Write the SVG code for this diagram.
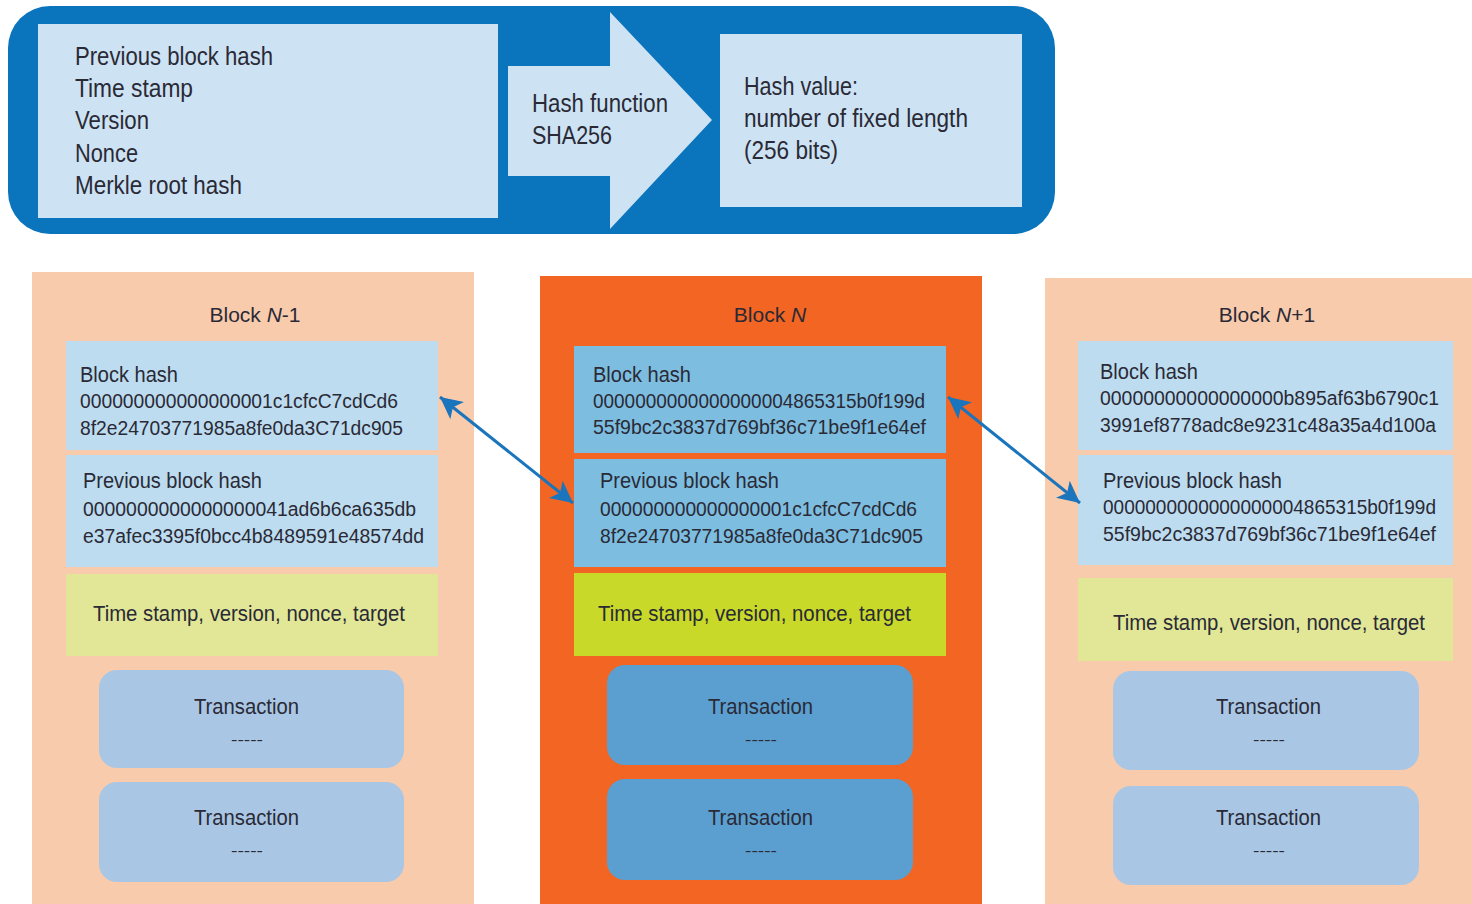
<svg xmlns="http://www.w3.org/2000/svg" width="1472" height="904" viewBox="0 0 1472 904">
  <defs>
    <style>
      .t { font-family: "Liberation Sans", Arial, sans-serif; fill: #2a2a36; }
      .big { font-size: 25px; }
      .mid { font-size: 22px; }
      .hx { font-size: 20px; }
      .ttl { font-size: 21px; text-anchor: middle; }
      .sm { font-size: 14px; }
      .pale { fill: #f9cbad; }
      .hot { fill: #f26522; }
      .hashL { fill: #bddcf0; }
      .hashM { fill: #7dbde0; }
      .metaL { fill: #e1e796; }
      .metaM { fill: #c8d92a; }
      .txL { fill: #a9c7e4; }
      .txM { fill: #5a9fd0; }
      .link { stroke: #1b75bc; stroke-width: 3; fill: none; }
    </style>
    <marker id="head" viewBox="0 0 10 10" refX="10" refY="5" markerWidth="26" markerHeight="22" markerUnits="userSpaceOnUse" orient="auto-start-reverse">
      <path d="M0,0 L10,5 L0,10 L2.5,5 Z" fill="#1b75bc"/>
    </marker>
  </defs>

  <rect width="1472" height="904" fill="#ffffff"/>

  <!-- hashing overview banner -->
  <g id="hash-banner">
    <rect x="8" y="6" width="1047" height="228" rx="42" fill="#0a74bd"/>
    <rect x="38" y="24" width="460" height="194" fill="#cde3f3"/>
    <text class="t big" x="75" y="65" textLength="198" lengthAdjust="spacingAndGlyphs">Previous block hash</text>
    <text class="t big" x="75" y="97" textLength="118" lengthAdjust="spacingAndGlyphs">Time stamp</text>
    <text class="t big" x="75" y="129" textLength="74" lengthAdjust="spacingAndGlyphs">Version</text>
    <text class="t big" x="75" y="162" textLength="63" lengthAdjust="spacingAndGlyphs">Nonce</text>
    <text class="t big" x="75" y="194" textLength="167" lengthAdjust="spacingAndGlyphs">Merkle root hash</text>
  </g>

  <g id="hash-function">
    <polygon points="508,66 610,66 610,12 712,120 610,229 610,176 508,176" fill="#cde3f3"/>
    <text class="t big" x="532" y="112" textLength="136" lengthAdjust="spacingAndGlyphs">Hash function</text>
    <text class="t big" x="532" y="144" textLength="80" lengthAdjust="spacingAndGlyphs">SHA256</text>
  </g>

  <g id="hash-value">
    <rect x="720" y="34" width="302" height="173" fill="#cde3f3"/>
    <text class="t big" x="744" y="95" textLength="114" lengthAdjust="spacingAndGlyphs">Hash value:</text>
    <text class="t big" x="744" y="127" textLength="224" lengthAdjust="spacingAndGlyphs">number of fixed length</text>
    <text class="t big" x="744" y="159" textLength="94" lengthAdjust="spacingAndGlyphs">(256 bits)</text>
  </g>

  <!-- Block N-1 -->
  <g id="block-n-minus-1">
    <rect class="pale" x="32" y="272" width="442" height="632"/>
    <text class="t ttl" x="255" y="322">Block <tspan font-style="italic">N</tspan>-1</text>
    <rect class="hashL" x="66" y="341" width="372" height="109"/>
    <text class="t mid" x="80" y="382" textLength="98" lengthAdjust="spacingAndGlyphs">Block hash</text>
    <text class="t hx" x="80" y="408" textLength="318" lengthAdjust="spacingAndGlyphs">000000000000000001c1cfcC7cdCd6</text>
    <text class="t hx" x="80" y="435" textLength="323" lengthAdjust="spacingAndGlyphs">8f2e24703771985a8fe0da3C71dc905</text>
    <rect class="hashL" x="66" y="455" width="372" height="112"/>
    <text class="t mid" x="83" y="488" textLength="179" lengthAdjust="spacingAndGlyphs">Previous block hash</text>
    <text class="t hx" x="83" y="516" textLength="333" lengthAdjust="spacingAndGlyphs">0000000000000000041ad6b6ca635db</text>
    <text class="t hx" x="83" y="543" textLength="341" lengthAdjust="spacingAndGlyphs">e37afec3395f0bcc4b8489591e48574dd</text>
    <rect class="metaL" x="66" y="574" width="372" height="82"/>
    <text class="t mid" x="93" y="621" textLength="312" lengthAdjust="spacingAndGlyphs">Time stamp, version, nonce, target</text>
    <rect class="txL" x="99" y="670" width="305" height="98" rx="18"/>
    <text class="t mid" x="194" y="714" textLength="105" lengthAdjust="spacingAndGlyphs">Transaction</text>
    <text class="t sm" x="231" y="745" textLength="32" lengthAdjust="spacingAndGlyphs">-----</text>
    <rect class="txL" x="99" y="782" width="305" height="100" rx="18"/>
    <text class="t mid" x="194" y="825" textLength="105" lengthAdjust="spacingAndGlyphs">Transaction</text>
    <text class="t sm" x="231" y="856" textLength="32" lengthAdjust="spacingAndGlyphs">-----</text>
  </g>

  <!-- Block N -->
  <g id="block-n">
    <rect class="hot" x="540" y="276" width="442" height="628"/>
    <text class="t ttl" x="770" y="322">Block <tspan font-style="italic">N</tspan></text>
    <rect class="hashM" x="574" y="346" width="372" height="107"/>
    <text class="t mid" x="593" y="382" textLength="98" lengthAdjust="spacingAndGlyphs">Block hash</text>
    <text class="t hx" x="593" y="408" textLength="332" lengthAdjust="spacingAndGlyphs">0000000000000000004865315b0f199d</text>
    <text class="t hx" x="593" y="434" textLength="333" lengthAdjust="spacingAndGlyphs">55f9bc2c3837d769bf36c71be9f1e64ef</text>
    <rect class="hashM" x="574" y="459" width="372" height="108"/>
    <text class="t mid" x="600" y="488" textLength="179" lengthAdjust="spacingAndGlyphs">Previous block hash</text>
    <text class="t hx" x="600" y="516" textLength="317" lengthAdjust="spacingAndGlyphs">000000000000000001c1cfcC7cdCd6</text>
    <text class="t hx" x="600" y="543" textLength="323" lengthAdjust="spacingAndGlyphs">8f2e24703771985a8fe0da3C71dc905</text>
    <rect class="metaM" x="574" y="573" width="372" height="83"/>
    <text class="t mid" x="598" y="621" textLength="313" lengthAdjust="spacingAndGlyphs">Time stamp, version, nonce, target</text>
    <rect class="txM" x="607" y="665" width="306" height="100" rx="18"/>
    <text class="t mid" x="708" y="714" textLength="105" lengthAdjust="spacingAndGlyphs">Transaction</text>
    <text class="t sm" x="745" y="745" textLength="32" lengthAdjust="spacingAndGlyphs">-----</text>
    <rect class="txM" x="607" y="779" width="306" height="101" rx="18"/>
    <text class="t mid" x="708" y="825" textLength="105" lengthAdjust="spacingAndGlyphs">Transaction</text>
    <text class="t sm" x="745" y="856" textLength="32" lengthAdjust="spacingAndGlyphs">-----</text>
  </g>

  <!-- Block N+1 -->
  <g id="block-n-plus-1">
    <rect class="pale" x="1045" y="278" width="427" height="626"/>
    <text class="t ttl" x="1267" y="322">Block <tspan font-style="italic">N</tspan>+1</text>
    <rect class="hashL" x="1078" y="341" width="375" height="109"/>
    <text class="t mid" x="1100" y="379" textLength="98" lengthAdjust="spacingAndGlyphs">Block hash</text>
    <text class="t hx" x="1100" y="405" textLength="339" lengthAdjust="spacingAndGlyphs">00000000000000000b895af63b6790c1</text>
    <text class="t hx" x="1100" y="432" textLength="336" lengthAdjust="spacingAndGlyphs">3991ef8778adc8e9231c48a35a4d100a</text>
    <rect class="hashL" x="1078" y="455" width="375" height="110"/>
    <text class="t mid" x="1103" y="488" textLength="179" lengthAdjust="spacingAndGlyphs">Previous block hash</text>
    <text class="t hx" x="1103" y="514" textLength="333" lengthAdjust="spacingAndGlyphs">0000000000000000004865315b0f199d</text>
    <text class="t hx" x="1103" y="541" textLength="333" lengthAdjust="spacingAndGlyphs">55f9bc2c3837d769bf36c71be9f1e64ef</text>
    <rect class="metaL" x="1078" y="578" width="375" height="83"/>
    <text class="t mid" x="1113" y="630" textLength="312" lengthAdjust="spacingAndGlyphs">Time stamp, version, nonce, target</text>
    <rect class="txL" x="1113" y="671" width="306" height="99" rx="18"/>
    <text class="t mid" x="1216" y="714" textLength="105" lengthAdjust="spacingAndGlyphs">Transaction</text>
    <text class="t sm" x="1253" y="745" textLength="32" lengthAdjust="spacingAndGlyphs">-----</text>
    <rect class="txL" x="1113" y="786" width="306" height="99" rx="18"/>
    <text class="t mid" x="1216" y="825" textLength="105" lengthAdjust="spacingAndGlyphs">Transaction</text>
    <text class="t sm" x="1253" y="856" textLength="32" lengthAdjust="spacingAndGlyphs">-----</text>
  </g>

  <!-- hash links between neighbouring blocks -->
  <g id="connectors">
    <line class="link" x1="440" y1="397" x2="573" y2="503" marker-start="url(#head)" marker-end="url(#head)"/>
    <line class="link" x1="948" y1="397" x2="1080" y2="503" marker-start="url(#head)" marker-end="url(#head)"/>
  </g>
</svg>
